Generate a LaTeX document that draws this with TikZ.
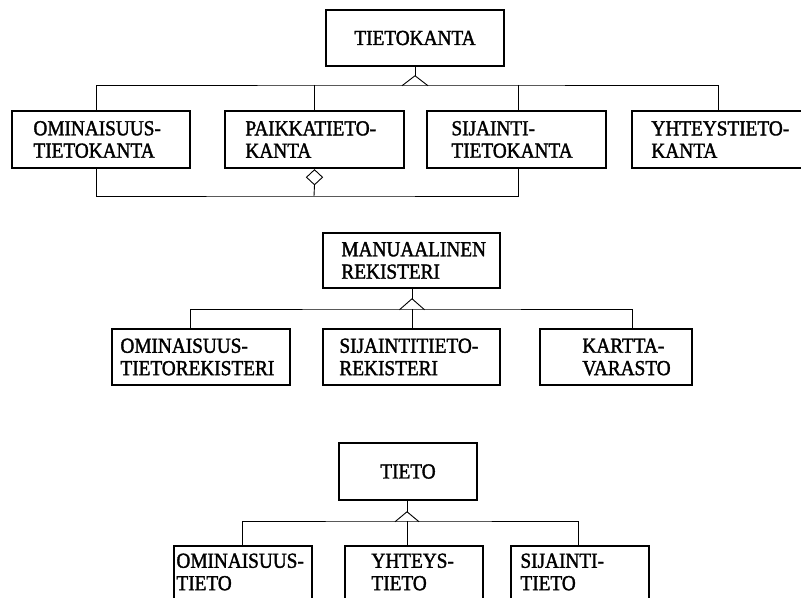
\documentclass[tikz,border=0pt]{standalone}
\usepackage{fontspec}
\setmainfont{Liberation Serif}[FakeStretch=0.9,FakeBold=1.6]
\newcommand\boxfont{\fontsize{21.5}{22.5}\selectfont}
\begin{document}
\begin{tikzpicture}[x=1bp,y=-1bp,
  box/.style={draw,line width=1.5bp,inner sep=0pt},
  lbl/.style={inner sep=0pt,font=\boxfont,align=left,anchor=west},
  conn/.style={line width=0.9bp,line join=miter},
  ]
\useasboundingbox (0,0) rectangle (801,598);
\clip (0,0) rectangle (801,598);
\fill[white] (0,0) rectangle (801,598);

% ---------- TIETOKANTA ----------
\node[box,minimum width=178bp,minimum height=56bp] (tk) at (415,38) {};
\node[lbl,anchor=center] (tkt) at (tk.center) {TIETOKANTA};
\node[box,minimum width=178bp,minimum height=57bp] (a1) at (101,139.5) {};
\node[lbl] (a1t) at ([xshift=22bp]a1.west) {OMINAISUUS-\\TIETOKANTA};
\node[box,minimum width=179bp,minimum height=57bp] (a2) at (314.5,139.5) {};
\node[lbl] (a2t) at ([xshift=21bp]a2.west) {PAIKKATIETO-\\KANTA};
\node[box,minimum width=179bp,minimum height=57bp] (a3) at (516.5,139.5) {};
\node[lbl] (a3t) at ([xshift=25bp]a3.west) {SIJAINTI-\\TIETOKANTA};
\node[box,minimum width=178bp,minimum height=57bp] (a4) at (721,139.5) {};
\node[lbl] (a4t) at ([xshift=20bp]a4.west) {YHTEYSTIETO-\\KANTA};

\coordinate (ja) at (415,85);
\draw[conn] (tk.south) -- ++(0,9) coordinate (tkapex);
\draw[conn] (tkapex) -- ++(-13,10) (tkapex) -- ++(13,10);
\draw[conn] (a1.north -| 96,0) |- (ja) -| (a4.north -| 718,0);
\draw[conn] (ja -| a2.north) -- (a2.north);
\draw[conn] (ja -| 518,0) -- (a3.north -| 518,0);

% aggregation below PAIKKATIETOKANTA
\coordinate (jb) at (314,196);
\draw[conn,fill=white] (a2.south) ++(0,1) coordinate (dtop) -- ++(-8,7.5) -- ++(8,7.5) coordinate (dbot) -- ++(8,-7.5) -- cycle;
\draw[conn] (dbot) -- (jb);
\draw[conn] (a1.south -| 96,0) |- (jb) -| (a3.south -| 518,0);

% ---------- MANUAALINEN REKISTERI ----------
\node[box,minimum width=177bp,minimum height=55bp] (mr) at (411.5,260.5) {};
\node[lbl] (mrt) at ([xshift=19bp]mr.west) {MANUAALINEN\\REKISTERI};
\node[box,minimum width=178bp,minimum height=56bp] (b1) at (201,357) {};
\node[lbl] (b1t) at ([xshift=9bp]b1.west) {OMINAISUUS-\\TIETOREKISTERI};
\node[box,minimum width=177bp,minimum height=56bp] (b2) at (411.5,357) {};
\node[lbl] (b2t) at ([xshift=17bp]b2.west) {SIJAINTITIETO-\\REKISTERI};
\node[box,minimum width=152bp,minimum height=56bp] (b3) at (616,357) {};
\node[lbl] (b3t) at ([xshift=43bp]b3.west) {KARTTA-\\VARASTO};

\coordinate (jm) at (412,309);
\draw[conn] (mr.south -| jm) -- ++(0,10) coordinate (mrapex);
\draw[conn] (mrapex) -- ++(-12.5,11) (mrapex) -- ++(12.5,11);
\draw[conn] (b1.north -| 190,0) |- (jm) -| (b3.north -| 632,0);
\draw[conn] (jm) -- (b2.north -| jm);

% ---------- TIETO ----------
\node[box,minimum width=138bp,minimum height=57bp] (t) at (408,471.5) {};
\node[lbl,anchor=center] (tt) at (t.center) {TIETO};
\node[box,minimum width=138bp,minimum height=57bp] (c1) at (243,574.5) {};
\node[lbl] (c1t) at (c1.west |- 0,572) [xshift=3bp] {OMINAISUUS-\\TIETO};
\node[box,minimum width=138bp,minimum height=57bp] (c2) at (414,574.5) {};
\node[lbl] (c2t) at (c2.west |- 0,572) [xshift=27bp] {YHTEYS-\\TIETO};
\node[box,minimum width=138bp,minimum height=57bp] (c3) at (580,574.5) {};
\node[lbl] (c3t) at (c3.west |- 0,572) [xshift=10bp] {SIJAINTI-\\TIETO};

\coordinate (jt) at (407,521);
\draw[conn] (t.south -| jt) -- ++(0,11) coordinate (tapex);
\draw[conn] (tapex) -- ++(-12,10) (tapex) -- ++(12,10);
\draw[conn] (c1.north -| 242,0) |- (jt) -| (c3.north -| 578,0);
\draw[conn] (jt) -- (c2.north -| jt);
\end{tikzpicture}
\end{document}
